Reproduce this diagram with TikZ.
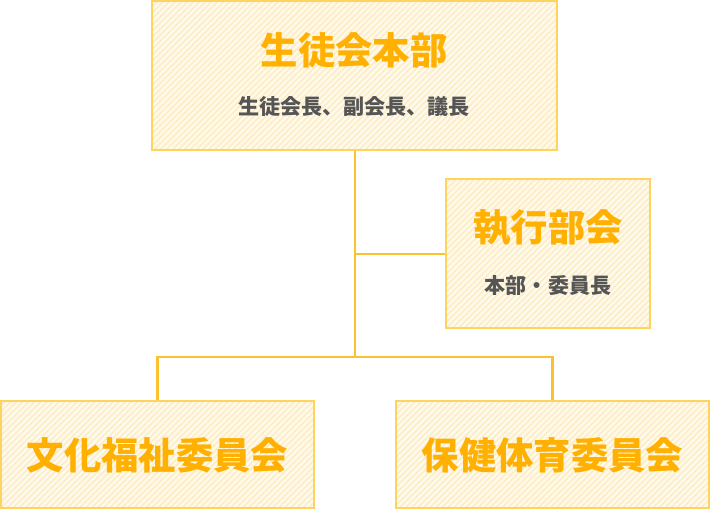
\documentclass[tikz,border=0pt]{standalone}
\usepackage{fontspec}
\newfontfamily\jp{Noto Sans CJK JP}
\usetikzlibrary{patterns.meta}
\definecolor{boxline}{HTML}{FFD45E}
\definecolor{linkline}{HTML}{FBC12E}
\definecolor{boxfill}{HTML}{FFFAEC}
\definecolor{stripe}{HTML}{FDEDC4}
\definecolor{titleorange}{HTML}{FFB000}
\definecolor{subgray}{HTML}{555555}
\tikzset{
  orgbox/.style={draw=boxline, line width=1.5pt, rectangle, inner sep=0pt,
    preaction={fill=boxfill},
    pattern={Lines[angle=45,distance=3.2pt,line width=1.2pt]}, pattern color=stripe},
  titletext/.style={font=\jp\bfseries\fontsize{28pt}{31pt}\selectfont, text=titleorange},
  subtext/.style={font=\jp\bfseries\fontsize{15.8pt}{18pt}\selectfont, text=subgray},
  link/.style={draw=linkline, line width=1.6pt}
}
\begin{document}
\begin{tikzpicture}[x=0.75pt,y=-0.75pt]
\useasboundingbox (0,0) rectangle (710,509);
% boxes
\node[orgbox, minimum width=405*0.75pt, minimum height=149*0.75pt] (honbu) at (354,76) {};
\node[orgbox, minimum width=204*0.75pt, minimum height=149*0.75pt] (shikko) at (548,254) {};
\node[orgbox, minimum width=313*0.75pt, minimum height=107*0.75pt] (bunka) at (157.5,454) {};
\node[orgbox, minimum width=313*0.75pt, minimum height=107*0.75pt] (hoken) at (552.5,454) {};
% texts
\node[titletext] (honbu-t) at (354,50) {生徒会本部};
\node[subtext] (honbu-s) at (354,107) {生徒会長、副会長、議長};
\node[titletext] (shikko-t) at (548,228) {執行部会};
\node[subtext] (shikko-s) at (548,286) {本部・委員長};
\node[titletext] (bunka-t) at (157.5,455) {文化福祉委員会};
\node[titletext] (hoken-t) at (552.5,455) {保健体育委員会};
% connectors
\coordinate (j1) at (355,254);
\coordinate (j2) at (355,357);
\coordinate (jl) at (bunka.north |- j2);
\coordinate (jr) at (hoken.north |- j2);
\draw[link] (honbu.south -| j1) -- (j2);
\draw[link] (j1) -- (shikko.west);
\draw[link] (bunka.north) -- (jl) -- (jr) -- (hoken.north);
\end{tikzpicture}
\end{document}
